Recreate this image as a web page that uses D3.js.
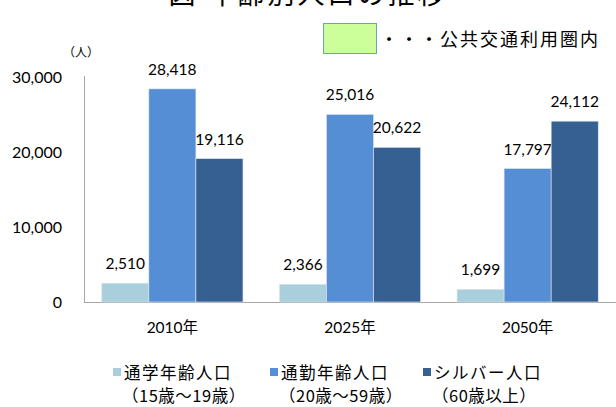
<!DOCTYPE html>
<html>
<head>
<meta charset="utf-8">
<script src="https://d3js.org/d3.v7.min.js"></script>
<style>
  html, body { margin: 0; padding: 0; background: #fff; }
  svg { display: block; }
  .num { font-family: Lato, "Open Sans", sans-serif; font-size: 15.5px; fill: #000; }
  .jp { font-family: "Noto Sans CJK JP", sans-serif; fill: #000; }
</style>
</head>
<body>
<svg width="616" height="407"></svg>
<script>
  const years = ['2010年', '2025年', '2050年'];
  const seriesNames = ['通学年齢人口', '通勤年齢人口', 'シルバー人口'];
  const seriesSub = ['（15歳～19歳）', '（20歳～59歳）', '（60歳以上）'];
  const student = [2510, 2366, 1699];
  const worker = [28418, 25016, 17797];
  const silver = [19116, 20622, 24112];
  const yTicks = [0, 10000, 20000, 30000];
  const colours = ['#a9cedc', '#558ed5', '#376092'];

  const svg = d3.select('svg');
  const plotL = 84, plotR = 616, plotT = 77, plotB = 302;

  const x = d3.scaleBand().domain(years).range([plotL, plotR]).paddingInner(0.205).paddingOuter(0.1);
  const series = [student, worker, silver];
  const xs = d3.scaleBand().domain([0, 1, 2]).range([0, x.bandwidth()]);
  const y = d3.scaleLinear().domain([0, 30000]).range([plotB, plotT]);

  // title (cut off at the top in the original)
  svg.append('text').attr('class', 'jp')
     .attr('x', 308).attr('y', 4).attr('text-anchor', 'middle')
     .style('font-size', '27px').style('letter-spacing', '3px')
     .text('図 年齢別人口の推移');

  // axes lines
  svg.append('line').attr('x1', plotL + 0.5).attr('x2', plotL + 0.5)
     .attr('y1', plotT - 1).attr('y2', plotB).attr('stroke', '#a6a6a6');
  svg.append('line').attr('x1', plotL).attr('x2', plotR)
     .attr('y1', plotB + 0.5).attr('y2', plotB + 0.5).attr('stroke', '#a6a6a6');

  svg.selectAll('.ytick').data(yTicks).join('text')
     .attr('class', 'num')
     .attr('x', 62).attr('y', d => y(d)).attr('dy', '0.35em')
     .attr('text-anchor', 'end')
     .style('font-size', '16px')
     .text(d => d3.format(',')(d));

  svg.append('text').attr('class', 'jp').attr('x', 63).attr('y', 57)
     .style('font-size', '12px').text('（人）');

  const groups = svg.selectAll('.grp').data(years).join('g')
     .attr('transform', d => `translate(${x(d)},0)`);

  series.forEach((vals, si) => {
    groups.append('rect')
      .attr('x', xs(si)).attr('width', xs.bandwidth())
      .attr('y', (d, i) => y(vals[i]))
      .attr('height', (d, i) => plotB - y(vals[i]))
      .attr('fill', colours[si])
      .attr('stroke', '#dfe8f3').attr('stroke-width', 0.6);
    groups.append('text').attr('class', 'num')
      .attr('x', xs(si) + xs.bandwidth() / 2)
      .attr('y', (d, i) => y(vals[i]) - 14)
      .attr('text-anchor', 'middle')
      .text((d, i) => d3.format(',')(vals[i]));
  });

  svg.selectAll('.xlab').data(years).join('text')
     .attr('class', 'num')
     .attr('x', d => x(d) + x.bandwidth() / 2).attr('y', 333)
     .attr('text-anchor', 'middle')
     .style('font-family', 'Lato, "Noto Sans CJK JP", sans-serif')
     .text(d => d);

  // top legend
  svg.append('rect').attr('x', 323.5).attr('y', 23.5).attr('width', 53).attr('height', 30)
     .attr('fill', '#ccff99').attr('stroke', '#6f9bd6').attr('stroke-width', 1);
  svg.append('text').attr('class', 'jp').attr('x', 380).attr('y', 46)
     .style('font-size', '18px').style('letter-spacing', '2px')
     .text('・・・公共交通利用圏内');

  // bottom legend
  const legX = [113, 270, 423];
  seriesNames.forEach((name, i) => {
    svg.append('rect').attr('x', legX[i]).attr('y', 368).attr('width', 8).attr('height', 8)
       .attr('fill', colours[i]);
    svg.append('text').attr('class', 'jp').attr('x', legX[i] + 11).attr('y', 379)
       .style('font-size', '16.5px').style('letter-spacing', '1.5px').text(name);
    svg.append('text').attr('class', 'jp').attr('x', legX[i] + 9).attr('y', 402)
       .style('font-size', '16.5px').style('letter-spacing', '0.5px').text(seriesSub[i]);
  });
</script>
</body>
</html>
